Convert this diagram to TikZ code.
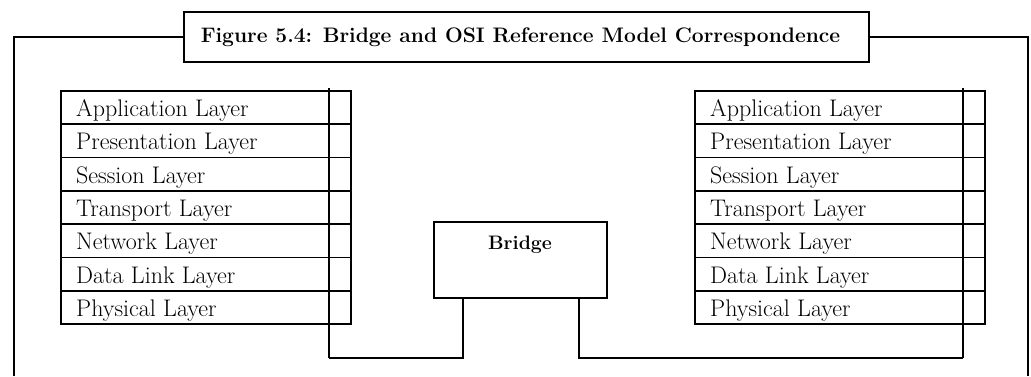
\documentclass[tikz,border=0pt]{standalone}
\usepackage{fontspec}
\newcommand{\layerfont}{\fontsize{24}{27}\selectfont}
\begin{document}
\begin{tikzpicture}[x=1pt,y=-1pt,
  frame/.style={line width=1.8pt},
  layer/.style={draw,line width=1.8pt,minimum width=290pt,minimum height=33.3pt,inner sep=0pt,anchor=north west},
  lbl/.style={anchor=base west,inner sep=0pt,font=\layerfont},
  tick/.style={line width=1.5pt},
  wire/.style={line width=1.4pt},
  titlebox/.style={draw,line width=1.8pt,minimum width=685pt,minimum height=50pt,inner sep=0pt,font=\fontsize{21}{24}\selectfont\bfseries},
  bridgebox/.style={draw,line width=1.6pt,minimum width=173pt,minimum height=76pt,inner sep=0pt,anchor=north west}
]
\useasboundingbox (0,0) rectangle (1031,376);
% title and frame
\node[titlebox] (title) at (526.5,37) {Figure 5.4: Bridge and OSI Reference Model Correspondence\hspace*{12pt}};
\coordinate (fl) at (14,376);
\coordinate (fr) at (1028,376);
\draw[frame] (fl) |- (title.west);
\draw[frame] (fr) |- (title.east);
% left and right stacks
\foreach \t [count=\i] in {Application Layer,Presentation Layer,Session Layer,Transport Layer,Network Layer,Data Link Layer,Physical Layer}{
  \node[layer] (L\i) at (60,{90+(\i-1)*33.3}) {};
  \node[lbl] (Lt\i) at ([xshift=16pt,yshift=8.5pt]L\i.south west) {\t};
  \node[layer] (R\i) at (694,{90+(\i-1)*33.3}) {};
  \node[lbl] (Rt\i) at ([xshift=16pt,yshift=8.5pt]R\i.south west) {\t};
}
% bridge
\node[bridgebox] (B) at (433,221) {};
\node[font=\fontsize{19.5}{22}\selectfont\bfseries] (Bt) at (520,245) {Bridge};
% connectors
\coordinate (lt) at (329,88);
\coordinate (lb) at (329,358);
\coordinate (rt) at (963,88);
\coordinate (rb) at (963,358);
\coordinate (bl) at (463,297);
\coordinate (br) at (579,297);
\draw[tick] (lt) -- (lb);
\draw[tick] (rt) -- (rb);
\draw[wire] (lb) -| (bl);
\draw[wire] (rb) -| (br);
\end{tikzpicture}
\end{document}
